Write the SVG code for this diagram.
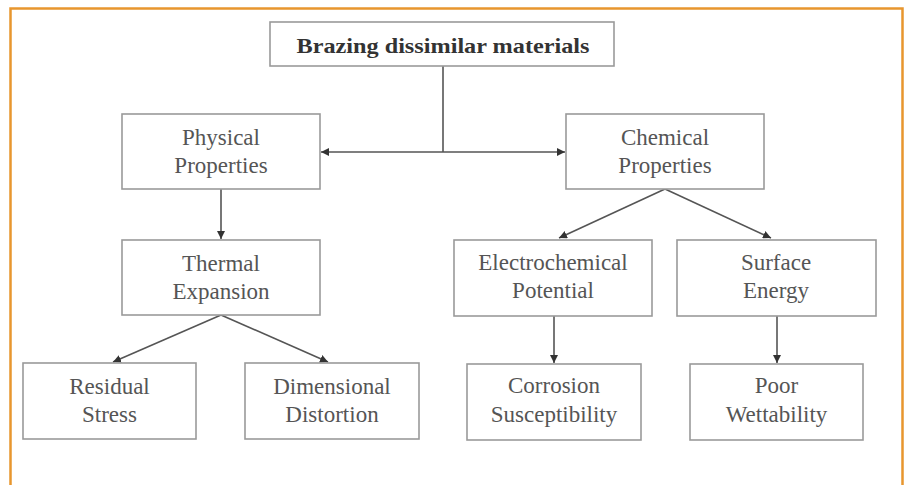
<svg xmlns="http://www.w3.org/2000/svg" width="906" height="485" viewBox="0 0 906 485">
<defs>
<marker id="ah" viewBox="0 0 10 10" refX="10" refY="5" markerWidth="8" markerHeight="8" markerUnits="userSpaceOnUse" orient="auto">
<path d="M0,0 L10,5 L0,10 z" fill="#333"/>
</marker>
<style>
.box{fill:#fff;stroke:#9a9a9a;stroke-width:1.6}
.t{font-family:"Liberation Serif","Times New Roman",serif;font-size:23px;fill:#555;text-anchor:middle}
.tb{font-family:"Liberation Serif","Times New Roman",serif;font-size:22px;font-weight:bold;fill:#333;text-anchor:middle}
.c{stroke:#555;stroke-width:1.6;fill:none}
.ca{stroke:#555;stroke-width:1.6;fill:none;marker-end:url(#ah)}
</style>
</defs>
<rect x="0" y="0" width="906" height="485" fill="#fff"/>
<path d="M10.5,490 L10.5,8.5 L902.5,8.5 L902.5,490" fill="none" stroke="#e8962e" stroke-width="2.5"/>

<g id="connectors">
<line class="c" x1="443" y1="66" x2="443" y2="152"/>
<line class="ca" x1="443" y1="152" x2="321" y2="152"/>
<line class="ca" x1="443" y1="152" x2="565" y2="152"/>
<line class="ca" x1="221" y1="189" x2="221" y2="239"/>
<line class="ca" x1="665" y1="189" x2="559" y2="238"/>
<line class="ca" x1="665" y1="189" x2="771" y2="238"/>
<line class="ca" x1="221" y1="315" x2="113" y2="362"/>
<line class="ca" x1="221" y1="315" x2="328" y2="362"/>
<line class="ca" x1="554" y1="316" x2="554" y2="363"/>
<line class="ca" x1="777" y1="316" x2="777" y2="363"/>
</g>

<g id="brazing">
<rect class="box" x="270" y="22" width="344" height="44"/>
<text class="tb" x="443" y="53" textLength="293" lengthAdjust="spacingAndGlyphs">Brazing dissimilar materials</text>
</g>
<g id="physical">
<rect class="box" x="122" y="114" width="198" height="75"/>
<text class="t" x="221" y="145">Physical</text>
<text class="t" x="221" y="173">Properties</text>
</g>
<g id="chemical">
<rect class="box" x="566" y="114" width="198" height="75"/>
<text class="t" x="665" y="145">Chemical</text>
<text class="t" x="665" y="173">Properties</text>
</g>
<g id="thermal">
<rect class="box" x="122" y="240" width="198" height="75"/>
<text class="t" x="221" y="271">Thermal</text>
<text class="t" x="221" y="299">Expansion</text>
</g>
<g id="electrochemical">
<rect class="box" x="454" y="240" width="198" height="76"/>
<text class="t" x="553" y="270">Electrochemical</text>
<text class="t" x="553" y="298">Potential</text>
</g>
<g id="surface">
<rect class="box" x="677" y="240" width="199" height="76"/>
<text class="t" x="776" y="270">Surface</text>
<text class="t" x="776" y="298">Energy</text>
</g>
<g id="residual">
<rect class="box" x="23" y="363" width="173" height="76"/>
<text class="t" x="109.5" y="394">Residual</text>
<text class="t" x="109.5" y="422">Stress</text>
</g>
<g id="dimensional">
<rect class="box" x="245" y="363" width="174" height="76"/>
<text class="t" x="332" y="394">Dimensional</text>
<text class="t" x="332" y="422">Distortion</text>
</g>
<g id="corrosion">
<rect class="box" x="467" y="364" width="174" height="76"/>
<text class="t" x="554" y="393">Corrosion</text>
<text class="t" x="554" y="422">Susceptibility</text>
</g>
<g id="poor">
<rect class="box" x="690" y="364" width="173" height="76"/>
<text class="t" x="776.5" y="393">Poor</text>
<text class="t" x="776.5" y="422">Wettability</text>
</g>
</svg>
